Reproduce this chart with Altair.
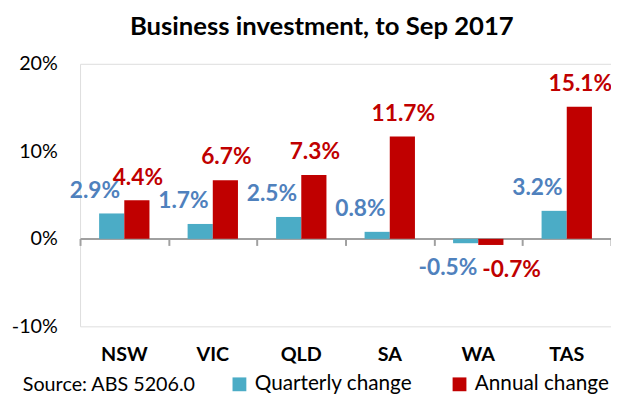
import altair as alt
import pandas as pd

states = ["NSW", "VIC", "QLD", "SA", "WA", "TAS"]
quarterly = [2.9, 1.7, 2.5, 0.8, -0.5, 3.2]
annual = [4.4, 6.7, 7.3, 11.7, -0.7, 15.1]
series_names = ["Quarterly change", "Annual change"]
y_ticks = [-10, 0, 10, 20]
title_text = "Business investment, to Sep 2017"
source_text = "Source: ABS 5206.0"

rows = []
for s, q, a in zip(states, quarterly, annual):
    rows.append({"state": s, "series": series_names[0], "value": q, "label": f"{q:.1f}%"})
    rows.append({"state": s, "series": series_names[1], "value": a, "label": f"{a:.1f}%"})
df = pd.DataFrame(rows)

FONT = "Lato"
BAR_Q = "#4BACC6"
BAR_A = "#C00000"
LBL_Q = "#4F81BD"
LBL_A = "#C00000"
AXIS_GREY = "#a0a0a0"

W, H = 538, 266

band_scale = dict(domain=states, paddingInner=0.431, paddingOuter=0.2155)


def x_bar():
    return alt.X("state:N", sort=states, scale=alt.Scale(**band_scale), axis=None)


def xo():
    return alt.XOffset("series:N", sort=series_names,
                       scale=alt.Scale(domain=series_names, paddingInner=0, paddingOuter=0))


y_enc = alt.Y(
    "value:Q",
    scale=alt.Scale(domain=[-10, 20], nice=False, zero=False),
    axis=alt.Axis(
        values=y_ticks, labelExpr="datum.value + '%'", title=None,
        domain=False, ticks=False, grid=False, labelFont=FONT,
        labelFontSize=20, labelColor="black", labelPadding=23,
    ),
)

base = alt.Chart(df)

# invisible layer that only carries the category axis (ticks between groups)
axis_layer = base.transform_filter(f"datum.series == '{series_names[0]}'").mark_point(opacity=0).encode(
    x=alt.X(
        "state:N", sort=states,
        scale=alt.Scale(domain=states, paddingInner=0, paddingOuter=0),
        axis=alt.Axis(
            orient="bottom", title=None, labels=False, domainColor=AXIS_GREY, domainWidth=2,
            tickColor=AXIS_GREY, tickWidth=2, tickSize=7, tickBand="extent",
            offset=-89, grid=False,
        ),
    ),
    y=alt.value(0),
)

bars = base.mark_bar().encode(
    x=x_bar(),
    xOffset=xo(),
    y=y_enc,
    color=alt.Color(
        "series:N",
        sort=series_names,
        scale=alt.Scale(domain=series_names, range=[BAR_Q, BAR_A]),
        legend=alt.Legend(
            orient="none", legendX=151, legendY=314, direction="horizontal",
            title=None, symbolType="square", symbolSize=196, symbolStrokeWidth=0,
            symbolOpacity=1, labelFont=FONT, labelFontSize=21, labelColor="black",
            labelOffset=5, columnPadding=37, labelLimit=400,
        ),
    ),
)


def label_layer(series, positive, color, dx, dy):
    cond = "datum.value >= 0" if positive else "datum.value < 0"
    return base.transform_filter(
        f"datum.series == '{series}' && {cond}"
    ).mark_text(
        font=FONT, fontSize=23, fontWeight="bold", baseline="alphabetic",
        align="center", dx=dx, dy=dy, color=color,
    ).encode(x=x_bar(), xOffset=xo(), y="value:Q", text="label:N")


lq_pos = label_layer(series_names[0], True, LBL_Q, -17, -16)
la_pos = label_layer(series_names[1], True, LBL_A, 1, -16)
lq_neg = label_layer(series_names[0], False, LBL_Q, -18, 32)
la_neg = label_layer(series_names[1], False, LBL_A, 21, 32)

cat_labels = base.transform_filter(f"datum.series == '{series_names[0]}'").mark_text(
    font=FONT, fontSize=20, fontWeight="bold", baseline="middle", align="center", color="black"
).encode(x=x_bar(), y=alt.value(295), text="state:N")

title = alt.Chart(pd.DataFrame({"t": [title_text]})).mark_text(
    font=FONT, fontSize=26, fontWeight="bold", baseline="alphabetic", align="center", color="black"
).encode(x=alt.value(245), y=alt.value(-29), text="t:N")

source = alt.Chart(pd.DataFrame({"t": [source_text]})).mark_text(
    font=FONT, fontSize=20, baseline="alphabetic", align="left", color="black"
).encode(x=alt.value(-58), y=alt.value(332), text="t:N")

chart = alt.layer(
    axis_layer, bars, lq_pos, la_pos, lq_neg, la_neg, cat_labels, title, source
).resolve_scale(x="independent").properties(
    width=W, height=H,
    autosize=alt.AutoSizeParams(type="none"),
    padding={"left": 73, "top": 54, "right": 0, "bottom": 67},
).configure_view(stroke=None).configure(background="white")

chart.save("out.html", embed_options={"renderer": "svg", "actions": False})
